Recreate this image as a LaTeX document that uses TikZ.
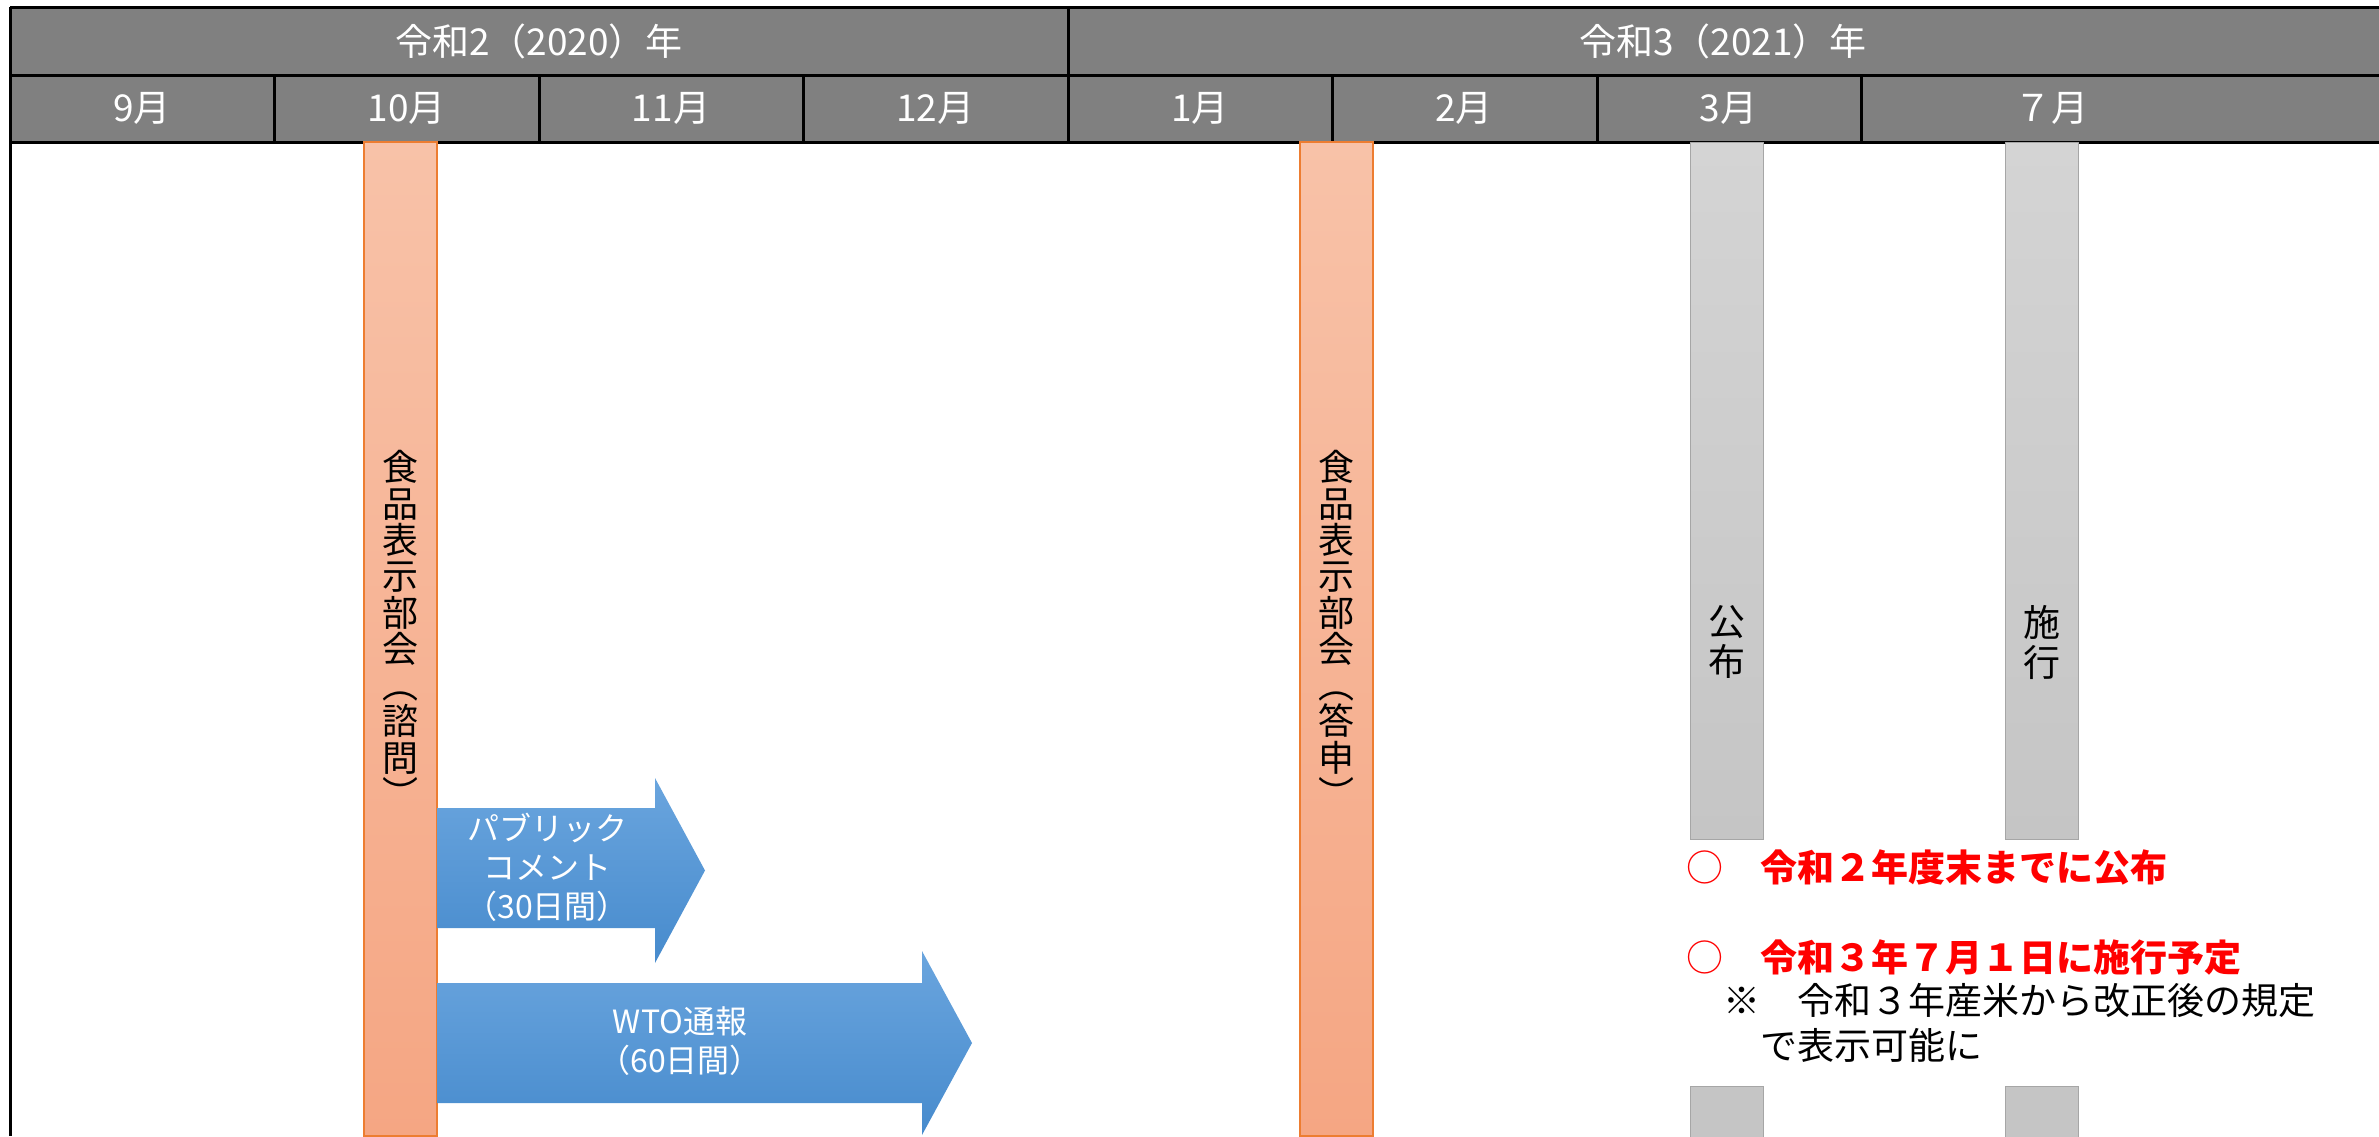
\documentclass[tikz,border=0pt]{standalone}
\usepackage{fontspec}
\setmainfont{Noto Sans CJK JP}
\usetikzlibrary{calc}
\definecolor{hdrgray}{RGB}{128,128,128}
\definecolor{peachtop}{RGB}{248,194,168}
\definecolor{peachbot}{RGB}{245,166,131}
\definecolor{peachline}{RGB}{237,125,49}
\definecolor{greytop}{RGB}{212,212,212}
\definecolor{greybot}{RGB}{197,197,197}
\definecolor{greyline}{RGB}{166,166,166}
\definecolor{bluetop}{RGB}{106,165,222}
\definecolor{bluebot}{RGB}{71,139,205}
\definecolor{notered}{RGB}{255,0,0}

\begin{document}
\begin{tikzpicture}[x=1pt,y=-1pt,
    rule/.style={black,line width=3pt},
    hdr/.style={text=white,inner sep=0pt,font=\fontsize{37}{37}\selectfont},
    obar/.style={draw=peachline,line width=1.5pt,top color=peachtop,bottom color=peachbot},
    gbar/.style={draw=greyline,line width=1pt,top color=greytop,bottom color=greybot},
    tate/.style={inner sep=0pt,align=center,font=\fontsize{36}{36.3}\selectfont},
    barrow/.style={top color=bluetop,bottom color=bluebot},
    atext/.style={text=white,inner sep=0pt,align=center,font=\fontsize{32}{39}\selectfont},
    memo/.style={inner sep=0pt,anchor=west,font=\fontsize{37}{45}\selectfont}]
    \useasboundingbox (0,0) rectangle (2379,1136);
    \fill[hdrgray] (10,7) rectangle (2379,142);
    \draw[rule] (10,7) -- (2379,7) (10,75) -- (2379,75) (10,142) -- (2379,142);
    \draw[rule] (10,7) -- (10,1136) (1068,7) -- (1068,142);
    \foreach \x in {274,539,803,1332,1597,1861}
      \draw[rule] (\x,75) -- (\x,142);
    \node[hdr] (y2020) at (539,41) {令和2（2020）年};
    \node[hdr] (y2021) at (1723,41) {令和3（2021）年};
    \foreach \m [count=\i] in {9,10,11,12,1,2,3}
      \node[hdr] (m\i) at ({10+264.4*(\i-0.5)},108.5) {\m{}月};
    \node[hdr] (m8) at (2051,108.5) {７月};

    \path[obar] (364,142) rectangle (437,1136);
    \path[obar] (1300,142) rectangle (1373,1136);
    \path[gbar] (1690,142) rectangle (1763,839) (2005,142) rectangle (2078,839);
    \path[fill=greybot,draw=greyline,line width=1pt] (1690,1086) rectangle (1763,1140) (2005,1086) rectangle (2078,1140);
    \node[tate] (shimon) at (400.5,629) {食\\品\\表\\示\\部\\会\\︵\\諮\\問\\︶};
    \node[tate] (toshin) at (1336.5,629) {食\\品\\表\\示\\部\\会\\︵\\答\\申\\︶};
    \node[tate,font=\fontsize{37}{40}\selectfont] (kofu) at (1726.5,642) {公\\布};
    \node[tate,font=\fontsize{37}{40}\selectfont] (shiko) at (2041.5,642) {施\\行};

    \path[barrow] (437,808) -- (655,808) -- (655,778) -- (705,870.5) -- (655,963) -- (655,928) -- (437,928) -- cycle;
    \path[barrow] (437,983) -- (922,983) -- (922,951) -- (972,1043) -- (922,1135) -- (922,1103) -- (437,1103) -- cycle;
    \node[atext] (pubcom) at (547,867) {パブリック\\コメント\\（30日間）};
    \node[atext] (wto) at (680,1041) {WTO通報\\（60日間）};

    \node[memo,text=notered] (kofuyotei) at (1686,867) {○　\textbf{令和２年度末までに公布}};
    \node[memo,text=notered] (shikoyotei) at (1686,957) {○　\textbf{令和３年７月１日に施行予定}};
    \node[memo,align=left,anchor=north west] (chuki) at (1723,983) {※　令和３年産米から改正後の規定\\　で表示可能に};
  \end{tikzpicture}
\end{document}
